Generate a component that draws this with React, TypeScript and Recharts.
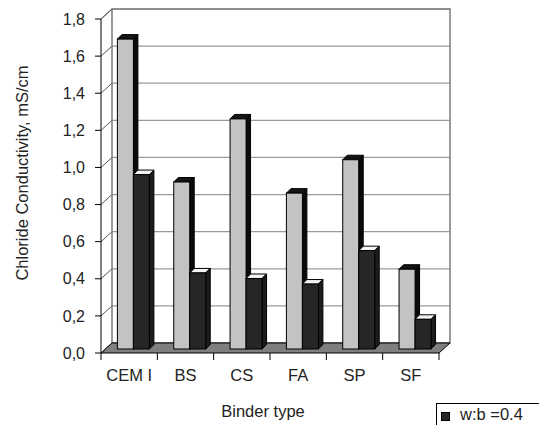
import { BarChart, Bar, XAxis, YAxis, CartesianGrid, ReferenceArea } from 'recharts';

// binder types along the x axis
const binders = ['CEM I', 'BS', 'CS', 'FA', 'SP', 'SF'];
// chloride conductivity, mS/cm
const lightValues = [1.67, 0.9, 1.24, 0.84, 1.02, 0.43];
const darkValues = [0.94, 0.41, 0.38, 0.35, 0.53, 0.16];
const yTicks = [0, 0.2, 0.4, 0.6, 0.8, 1.0, 1.2, 1.4, 1.6, 1.8];

const darkLabel = 'w:b =0.4';
const xTitle = 'Binder type';
const yTitle = 'Chloride Conductivity, mS/cm';

const data = binders.map((binder, i) => ({
  binder,
  light: lightValues[i],
  dark: darkValues[i],
}));

const FONT = '"Liberation Sans", Arial, sans-serif';
const TEXT = '#222';

// depth of the walls / floor and of the bars
const WALL_DX = 11;
const WALL_DY = -10;
const BAR_SHIFT = 4;
const BAR_DEPTH = 4.5;

type BarColors = { front: string; top: string; side: string };

const makeBar3D = (c: BarColors) => (props: any) => {
  const { x, y, width, height } = props;
  if (height == null || width == null) return null;
  const x0 = x + BAR_SHIFT;
  const y0 = y - BAR_SHIFT;
  const d = BAR_DEPTH;
  return (
    <g>
      <polygon
        points={`${x0},${y0} ${x0 + d},${y0 - d} ${x0 + width + d},${y0 - d} ${x0 + width},${y0}`}
        fill={c.top}
        stroke="#000"
        strokeWidth={1}
        strokeLinejoin="round"
      />
      <polygon
        points={`${x0 + width},${y0} ${x0 + width + d},${y0 - d} ${x0 + width + d},${y0 + height - d} ${x0 + width},${y0 + height}`}
        fill={c.side}
        stroke="#000"
        strokeWidth={1}
        strokeLinejoin="round"
      />
      <rect x={x0} y={y0} width={width} height={height} fill={c.front} stroke="#000" strokeWidth={1} />
    </g>
  );
};

const LightBar = makeBar3D({ front: '#c3c3c3', top: '#151515', side: '#0a0a0a' });
const DarkBar = makeBar3D({ front: '#262626', top: '#f4f4f4', side: '#1c1c1c' });

// back wall outline, floor and the category tick marks under the floor edge
const Frame = (props: any) => {
  const { x, y, width, height } = props;
  const bottom = y + height;
  const band = width / binders.length;
  return (
    <g>
      <rect x={x + WALL_DX} y={y + WALL_DY} width={width} height={height} fill="none" stroke="#7a7a7a" strokeWidth={1.5} />
      <line x1={x} y1={y} x2={x + WALL_DX} y2={y + WALL_DY} stroke="#555" />
      <polygon
        points={`${x},${bottom} ${x + width},${bottom} ${x + width + WALL_DX},${bottom + WALL_DY} ${x + WALL_DX},${bottom + WALL_DY}`}
        fill="#7f7f7f"
        stroke="#000"
        strokeWidth={1}
      />
      {Array.from({ length: binders.length + 1 }, (_, i) => (
        <line key={i} x1={x + i * band} y1={bottom} x2={x + i * band} y2={bottom + 7} stroke="#000" />
      ))}
    </g>
  );
};

// grid lines sit on the back wall, with a diagonal across the left wall
const GridLine = (props: any) => {
  const { x1, y1, x2, y2 } = props;
  return (
    <g key={props.key}>
      <line x1={x1 + WALL_DX} y1={y1 + WALL_DY} x2={x2 + WALL_DX} y2={y2 + WALL_DY} stroke="#9a9a9a" strokeWidth={1.2} />
      <line x1={x1} y1={y1} x2={x1 + WALL_DX} y2={y1 + WALL_DY} stroke="#555" />
    </g>
  );
};

const App = () => {
  return (
    <div style={{ position: 'absolute', left: 0, top: 0, width: 539, height: 425, background: '#fff', overflow: 'hidden' }}>
      <BarChart
        width={539}
        height={425}
        data={data}
        margin={{ top: 19, right: 100, bottom: 9, left: 0 }}
        barCategoryGap="22%"
        barGap={0}
      >
        <ReferenceArea y1={0} y2={1.8} shape={Frame} ifOverflow="visible" />
        <CartesianGrid horizontal={GridLine} vertical={false} />
        <XAxis
          dataKey="binder"
          height={63}
          axisLine={false}
          tickLine={false}
          tickSize={6}
          tickMargin={10}
          tick={{ fontSize: 16.5, fill: TEXT, fontFamily: FONT }}
          label={{
            content: () => (
              <text x={263} y={417} textAnchor="middle" fontSize={16.5} fill={TEXT} fontFamily={FONT}>
                {xTitle}
              </text>
            ),
          }}
        />
        <YAxis
          width={101}
          domain={[0, 1.8]}
          ticks={yTicks}
          interval={0}
          tickSize={6}
          tickMargin={10}
          axisLine={{ stroke: '#000' }}
          tickLine={{ stroke: '#000' }}
          tickFormatter={(v: number) => v.toFixed(1).replace('.', ',')}
          tick={{ fontSize: 16, fill: TEXT, fontFamily: FONT }}
          label={{
            content: () => (
              <text
                x={22}
                y={173}
                transform="rotate(-90 22 173)"
                textAnchor="middle"
                dominantBaseline="central"
                fontSize={16.5}
                fill={TEXT}
                fontFamily={FONT}
              >
                {yTitle}
              </text>
            ),
          }}
        />
        <Bar dataKey="light" shape={LightBar} isAnimationActive={false} />
        <Bar dataKey="dark" name={darkLabel} shape={DarkBar} isAnimationActive={false} />
      </BarChart>
      <div
        style={{
          position: 'absolute',
          left: 436,
          top: 403,
          width: 140,
          height: 40,
          border: '1px solid #000',
          background: '#fff',
          fontFamily: FONT,
          fontSize: 16.5,
          color: TEXT,
        }}
      >
        <span
          style={{
            position: 'absolute',
            left: 4,
            top: 8,
            width: 7,
            height: 7,
            background: '#262626',
            border: '1px solid #000',
          }}
        />
        <span style={{ position: 'absolute', left: 23, top: 1, whiteSpace: 'nowrap' }}>{darkLabel}</span>
      </div>
    </div>
  );
};

export default App;
